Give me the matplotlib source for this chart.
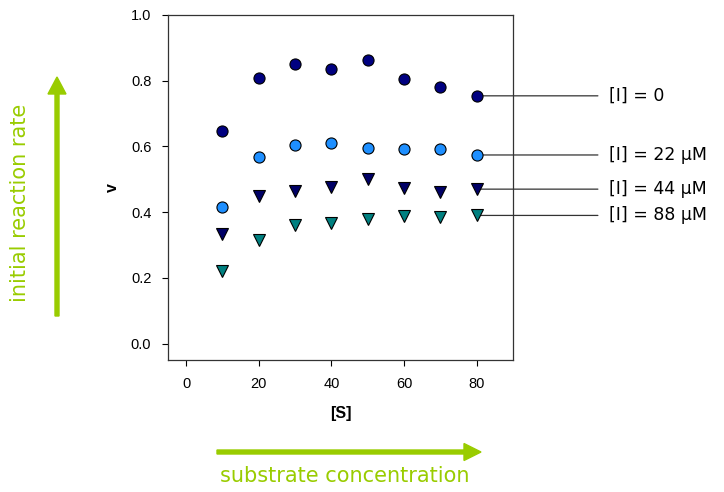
import matplotlib
matplotlib.use("Agg")
import matplotlib.pyplot as plt
from matplotlib.patches import FancyArrow

s = [10, 20, 30, 40, 50, 60, 70, 80]
v_0 = [0.647, 0.808, 0.851, 0.836, 0.863, 0.805, 0.781, 0.754]
v_22 = [0.416, 0.568, 0.605, 0.611, 0.596, 0.593, 0.593, 0.574]
v_44 = [0.334, 0.448, 0.463, 0.478, 0.502, 0.475, 0.461, 0.470]
v_88 = [0.220, 0.314, 0.362, 0.367, 0.380, 0.387, 0.384, 0.390]
labels = ["[I] = 0", "[I] = 22 \u03bcM", "[I] = 44 \u03bcM", "[I] = 88 \u03bcM"]

green = "#99CC00"

fig = plt.figure(figsize=(7.24, 4.92), dpi=100)
ax = fig.add_axes([168/724, 1 - 360/492, 345/724, 345/492])

series = [
    (v_0, "o", "#000080"),
    (v_22, "o", "#1E8FFF"),
    (v_44, "v", "#000066"),
    (v_88, "v", "#008080"),
]
for vals, m, c in series:
    ax.plot(s, vals, linestyle="none", marker=m, markersize=8,
            markerfacecolor=c, markeredgecolor="black", markeredgewidth=0.8,
            zorder=3)

ax.set_xlim(-5, 90)
ax.set_ylim(-0.05, 1.0)
ax.set_xticks([0, 20, 40, 60, 80])
ax.set_yticks([0.0, 0.2, 0.4, 0.6, 0.8, 1.0])
ax.set_yticklabels(["0.0", "0.2", "0.4", "0.6", "0.8", "1.0"])
ax.tick_params(direction="out", length=4, labelsize=10.5, pad=8, top=False, right=False)
for lab in ax.get_xticklabels() + ax.get_yticklabels():
    lab.set_family("Liberation Sans")
for sp in ax.spines.values():
    sp.set_color("#333333")
    sp.set_linewidth(0.9)

ax.set_xlabel("[S]", fontsize=11.5, fontweight="bold", family="Liberation Sans", labelpad=11)
ax.set_ylabel("v", fontsize=11.5, fontweight="bold", family="Liberation Sans", labelpad=8)

# labels joined to the last point of each series
for (vals, m, c), lab in zip(series, labels):
    ax.annotate(lab, xy=(s[-1], vals[-1]), xycoords="data",
                xytext=(609, vals[-1]), textcoords=("figure pixels", "data"),
                fontsize=12.5, va="center", ha="left",
                arrowprops=dict(arrowstyle="-", color="#333333", lw=0.9,
                                shrinkA=6, shrinkB=0, relpos=(0, 0.5)),
                annotation_clip=False, zorder=2)

# green arrows and captions
fig.patches.append(FancyArrow(57/724, 1 - 316/492, 0, (316 - 94)/492,
                              width=4/724, head_width=18/724, head_length=17/492,
                              length_includes_head=False, color=green,
                              transform=fig.transFigure, figure=fig))
fig.patches.append(FancyArrow(217/724, 1 - 452/492, (464 - 217)/724, 0,
                              width=4/492, head_width=17/492, head_length=17/724,
                              length_includes_head=False, color=green,
                              transform=fig.transFigure, figure=fig))
fig.text(20/724, 1 - 203/492, "initial reaction rate", rotation=90,
         color=green, fontsize=15, ha="center", va="center")
fig.text(345/724, 1 - 476/492, "substrate concentration",
         color=green, fontsize=15, ha="center", va="center")

fig.savefig("out.png", dpi=100)
